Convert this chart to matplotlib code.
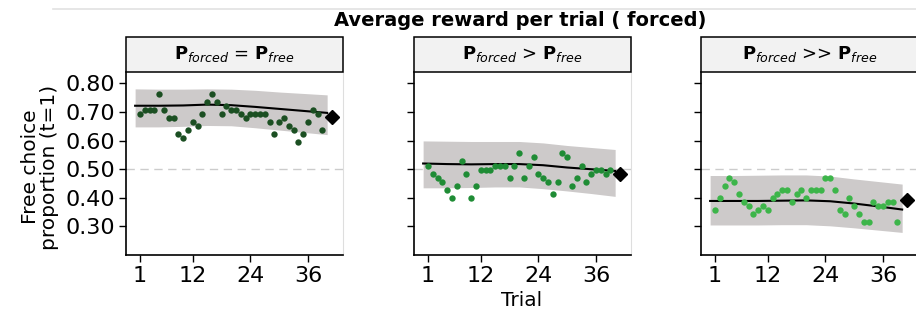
import numpy as np
import matplotlib
matplotlib.use("Agg")
import matplotlib.pyplot as plt
from matplotlib.patches import Rectangle
from matplotlib.lines import Line2D

plt.rcParams['font.family'] = ['DejaVu Sans']
plt.rcParams['mathtext.fontset'] = 'dejavusans'

trials = list(range(1, 40))

eq_vals = [0.692, 0.706, 0.706, 0.706, 0.762, 0.706, 0.678, 0.678, 0.622, 0.608,
           0.636, 0.664, 0.650, 0.692, 0.734, 0.762, 0.734, 0.692, 0.720, 0.706,
           0.706, 0.692, 0.678, 0.692, 0.692, 0.692, 0.692, 0.664, 0.622, 0.664,
           0.678, 0.650, 0.636, 0.594, 0.622, 0.664, 0.706, 0.692, 0.636]
gt_vals = [0.513, 0.485, 0.471, 0.457, 0.429, 0.401, 0.443, 0.527, 0.485, 0.401,
           0.443, 0.499, 0.499, 0.499, 0.513, 0.513, 0.513, 0.471, 0.513, 0.555,
           0.471, 0.513, 0.541, 0.485, 0.471, 0.457, 0.415, 0.457, 0.555, 0.541,
           0.443, 0.471, 0.513, 0.457, 0.485, 0.499, 0.499, 0.485, 0.499]
gg_vals = [0.359, 0.401, 0.443, 0.471, 0.457, 0.415, 0.387, 0.373, 0.345, 0.359,
           0.373, 0.359, 0.401, 0.415, 0.429, 0.429, 0.387, 0.415, 0.429, 0.401,
           0.429, 0.429, 0.429, 0.471, 0.471, 0.429, 0.359, 0.345, 0.401, 0.373,
           0.345, 0.317, 0.317, 0.387, 0.373, 0.373, 0.387, 0.387, 0.317]

# smoothed fit and its ribbon
smooth_x = [0, 5, 10, 15, 20, 25, 30, 35, 40]
eq_fit = [0.722, 0.722, 0.723, 0.726, 0.724, 0.718, 0.711, 0.704, 0.697]
eq_hi = [0.781, 0.780, 0.780, 0.781, 0.780, 0.776, 0.770, 0.765, 0.760]
eq_lo = [0.648, 0.648, 0.650, 0.653, 0.652, 0.645, 0.637, 0.629, 0.621]
gt_fit = [0.520, 0.518, 0.517, 0.518, 0.518, 0.514, 0.506, 0.500, 0.494]
gt_hi = [0.599, 0.598, 0.597, 0.597, 0.597, 0.592, 0.583, 0.576, 0.569]
gt_lo = [0.435, 0.435, 0.436, 0.438, 0.438, 0.432, 0.424, 0.415, 0.405]
gg_fit = [0.389, 0.389, 0.389, 0.390, 0.391, 0.388, 0.380, 0.370, 0.359]
gg_hi = [0.478, 0.478, 0.479, 0.480, 0.480, 0.476, 0.466, 0.457, 0.448]
gg_lo = [0.305, 0.305, 0.305, 0.306, 0.306, 0.302, 0.295, 0.287, 0.279]

diamond_x = 41
diamond_y = [0.682, 0.485, 0.392]

strip_labels = [r"$\mathbf{P}_{\mathit{forced}}$ = $\mathbf{P}_{\mathit{free}}$",
                r"$\mathbf{P}_{\mathit{forced}}$ > $\mathbf{P}_{\mathit{free}}$",
                r"$\mathbf{P}_{\mathit{forced}}$ >> $\mathbf{P}_{\mathit{free}}$"]
point_colors = ['#1b4f22', '#1f8c35', '#3db54a']

panels = [(eq_vals, eq_fit, eq_lo, eq_hi),
          (gt_vals, gt_fit, gt_lo, gt_hi),
          (gg_vals, gg_fit, gg_lo, gg_hi)]

W, H = 916, 318
fig = plt.figure(figsize=(W / 100, H / 100), dpi=100)

lefts = [126, 414, 701]
pw = 217
top, bottom = 72, 255
strip_h = 35

for i, (vals, fit, lo, hi) in enumerate(panels):
    ax = fig.add_axes([lefts[i] / W, 1 - bottom / H, pw / W, (bottom - top) / H])
    ax.fill_between(smooth_x, lo, hi, color='#cdcaca', lw=0, zorder=1)
    ax.axhline(0.5, color='#cccccc', lw=1.0, ls=(0, (6, 4)), zorder=0.5)
    ax.plot(smooth_x, fit, color='black', lw=1.5, zorder=2)
    ax.scatter(trials, vals, s=21, color=point_colors[i], lw=0, zorder=3)
    ax.plot([diamond_x], [diamond_y[i]], marker='D', ms=7.5, color='black', zorder=4)

    ax.set_xlim(-1.9, 43.3)
    ax.set_ylim(0.2, 0.84)
    ax.set_xticks([1, 12, 24, 36])
    ax.set_yticks([0.3, 0.4, 0.5, 0.6, 0.7, 0.8])
    ax.tick_params(axis='both', length=5, width=1, color='black', labelsize=16, pad=3)
    ax.tick_params(axis='x', pad=3)
    if i == 0:
        ax.set_yticklabels(['0.30', '0.40', '0.50', '0.60', '0.70', '0.80'])
    else:
        ax.set_yticklabels([])
    for s in ['left', 'bottom']:
        ax.spines[s].set_linewidth(1.2)
        ax.spines[s].set_color('black')
    ax.spines['right'].set_color('#dedede')
    ax.spines['right'].set_linewidth(0.8)
    ax.spines['top'].set_visible(False)

    # facet strip
    sh = strip_h / (bottom - top)
    ax.add_patch(Rectangle((0, 1), 1, sh, transform=ax.transAxes, clip_on=False,
                           facecolor='#f2f2f2', edgecolor='black', lw=1.1, zorder=5))
    ax.text(0.5, 1 + sh / 2, strip_labels[i], transform=ax.transAxes,
            ha='center', va='center', fontsize=13, zorder=6)

fig.add_artist(Line2D([53 / W, 1], [1 - 9 / H, 1 - 9 / H], color='#e2e2e2', lw=1.2))
fig.text(520 / W, 1 - 20 / H, "Average reward per trial ( forced)", ha='center', va='center',
         fontsize=14, fontweight='bold')
fig.text(40 / W, 1 - 167 / H, "Free choice\nproportion (t=1)", rotation=90,
         ha='center', va='center', fontsize=14.5, multialignment='center', linespacing=1.0)
fig.text(522 / W, 1 - 301 / H, "Trial", ha='center', va='center', fontsize=14.5)

fig.savefig("out.png", dpi=100)
